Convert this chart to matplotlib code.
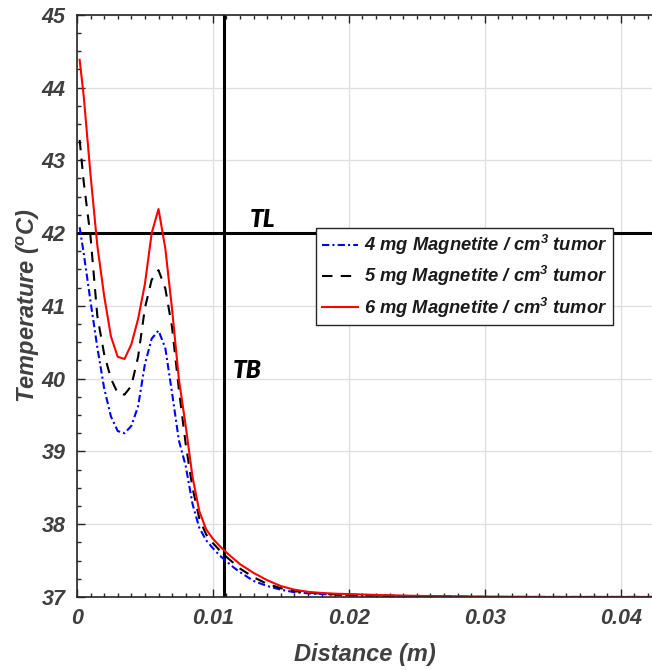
import numpy as np
import matplotlib.pyplot as plt
from matplotlib.ticker import MultipleLocator

plt.rcParams['font.family'] = ['Liberation Sans', 'DejaVu Sans']
plt.rcParams['font.weight'] = 'bold'
plt.rcParams['font.style'] = 'italic'
plt.rcParams['axes.labelweight'] = 'bold'
plt.rcParams['mathtext.fontset'] = 'custom'
plt.rcParams['mathtext.rm'] = 'Liberation Sans:bold:italic'
plt.rcParams['mathtext.it'] = 'Liberation Sans:bold:italic'
plt.rcParams['mathtext.bf'] = 'Liberation Sans:bold:italic'

# distance from tumor centre (m)
dist = [0.0002, 0.0005, 0.001, 0.0015, 0.002, 0.0025, 0.003, 0.0035, 0.004, 0.0045,
        0.005, 0.0055, 0.006, 0.0065, 0.007, 0.0075, 0.008, 0.0085, 0.009, 0.0095,
        0.010, 0.0105, 0.011, 0.0115, 0.012, 0.013, 0.014, 0.015, 0.016, 0.017,
        0.018, 0.019, 0.020, 0.0225, 0.025, 0.0275, 0.030, 0.035, 0.040, 0.0425]

# temperature (C) for each magnetite dose
temp_4mg = [42.08, 41.72, 41.06, 40.43, 39.87, 39.48, 39.28, 39.25, 39.35, 39.62,
            40.20, 40.55, 40.66, 40.42, 39.80, 39.15, 38.80, 38.28, 37.95, 37.78,
            37.67, 37.57, 37.49, 37.41, 37.34, 37.22, 37.15, 37.10, 37.065, 37.05,
            37.04, 37.03, 37.02, 37.015, 37.01, 37.005, 37.0, 37.0, 37.0, 37.0]
temp_5mg = [43.28, 42.70, 41.95, 40.86, 40.34, 40.00, 39.80, 39.78, 39.90, 40.30,
            40.97, 41.36, 41.49, 41.24, 40.70, 39.85, 39.10, 38.50, 38.08, 37.86,
            37.74, 37.64, 37.55, 37.47, 37.39, 37.27, 37.18, 37.12, 37.08, 37.06,
            37.045, 37.035, 37.03, 37.02, 37.01, 37.005, 37.0, 37.0, 37.0, 37.0]
temp_6mg = [44.38, 43.88, 42.80, 41.83, 41.14, 40.58, 40.30, 40.27, 40.47, 40.82,
            41.30, 42.00, 42.33, 41.79, 40.95, 39.99, 39.35, 38.65, 38.18, 37.93,
            37.80, 37.70, 37.61, 37.53, 37.45, 37.33, 37.23, 37.15, 37.10, 37.07,
            37.055, 37.045, 37.04, 37.025, 37.015, 37.01, 37.005, 37.0, 37.0, 37.0]

labels = ['4 mg Magnetite / cm$^{3}$ tumor',
          '5 mg Magnetite / cm$^{3}$ tumor',
          '6 mg Magnetite / cm$^{3}$ tumor']

TL = 42.0      # lethal temperature
TB = 0.0108    # tumor boundary (m)

fig = plt.figure(figsize=(6.52, 6.70), dpi=100)
ax = fig.add_axes([0.118, 0.109, 0.882, 0.869])

ax.plot(dist, temp_4mg, color='blue', lw=1.5, linestyle=(0, (3.5, 1.5, 1, 1.5)), label=labels[0])
ax.plot(dist, temp_5mg, color='black', lw=1.5, linestyle=(0, (5, 4)), label=labels[1])
ax.plot(dist, temp_6mg, color='red', lw=1.5, linestyle='-', label=labels[2])

ax.axhline(TL, color='black', lw=2.2, zorder=1)
ax.axvline(TB, color='black', lw=2.2, zorder=1)
ax.text(0.0127, 42.09, 'TL', fontsize=17.5, family=['Lato', 'DejaVu Sans'],
        fontweight='heavy', fontstyle='italic', va='baseline')
ax.text(0.01145, 40.01, 'TB', fontsize=17.5, family=['Lato', 'DejaVu Sans'],
        fontweight='heavy', fontstyle='italic', va='baseline')

ax.set_xlim(0, 0.0423)
ax.set_ylim(37, 45)
ax.xaxis.set_major_locator(MultipleLocator(0.01))
ax.xaxis.set_minor_locator(MultipleLocator(0.001))
ax.yaxis.set_major_locator(MultipleLocator(1))
ax.yaxis.set_minor_locator(MultipleLocator(0.25))
ax.set_xticks([0, 0.01, 0.02, 0.03, 0.04])
ax.set_xticklabels(['0', '0.01', '0.02', '0.03', '0.04'])
ax.tick_params(which='both', direction='in', top=True, right=False,
               colors='#262626', labelcolor='#404040', width=1.0)
ax.tick_params(which='major', length=6, labelsize=15.5, pad=8)
ax.tick_params(which='minor', length=3)
ax.grid(True, which='major', color='#dedede', lw=0.9)
ax.set_axisbelow(True)
for s in ax.spines.values():
    s.set_color('#262626')
    s.set_linewidth(1.2)
ax.spines['right'].set_visible(False)

ax.set_xlabel('Distance (m)', fontsize=17, color='#404040', labelpad=10)
ax.set_ylabel('Temperature ($^{o}$C)', fontsize=17, color='#404040', labelpad=0)

leg = ax.legend(loc='upper left', bbox_to_anchor=(0.485, 0.660),
                bbox_transform=fig.transFigure, fontsize=13.2, fancybox=False,
                framealpha=1, edgecolor='#262626', handlelength=2.0,
                handletextpad=0.3, borderpad=0.3, labelspacing=0.38,
                borderaxespad=0)
leg.get_frame().set_linewidth(1.0)
for t in leg.get_texts():
    t.set_color('#1a1a1a')

fig.savefig('out.png', dpi=100)
